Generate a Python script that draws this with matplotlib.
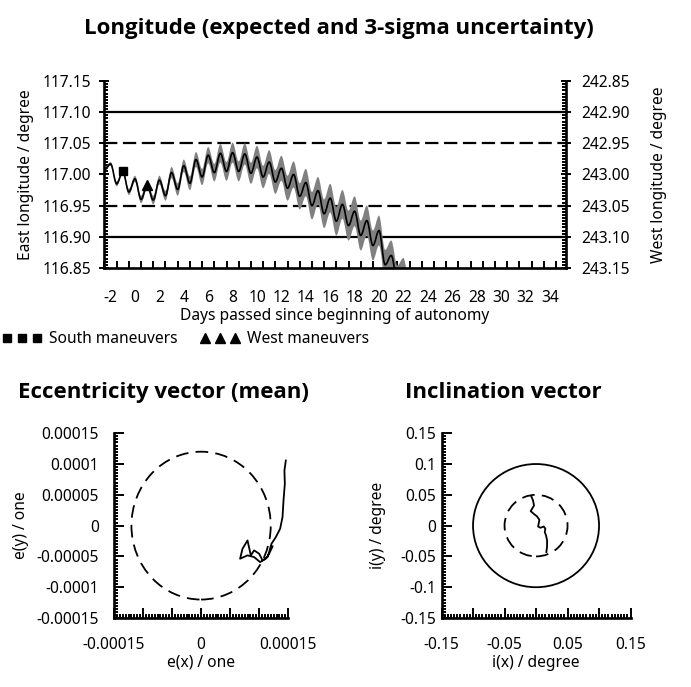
import matplotlib
matplotlib.use("Agg")
import matplotlib.pyplot as plt
import numpy as np
from matplotlib.lines import Line2D
from matplotlib.patches import Ellipse, PathPatch
from matplotlib.path import Path
from matplotlib.ticker import FuncFormatter, MultipleLocator

plt.rcParams["font.family"] = ["Noto Sans", "DejaVu Sans"]
plt.rcParams["axes.unicode_minus"] = False

# ---------------------------------------------------------------- data

# longitude, half-day samples (peaks on whole days, troughs in between)
days = [-2.5, -2.0, -1.5, -1.0, -0.5, 0.0, 0.5, 1.0, 1.5, 2.0,
        2.5, 3.0, 3.5, 4.0, 4.5, 5.0, 5.5, 6.0, 6.5, 7.0,
        7.5, 8.0, 8.5, 9.0, 9.5, 10.0, 10.5, 11.0, 11.5, 12.0,
        12.5, 13.0, 13.5, 14.0, 14.5, 15.0, 15.5, 16.0, 16.5, 17.0,
        17.5, 18.0, 18.5, 19.0, 19.5, 20.0, 20.5, 21.0, 21.5, 22.0, 22.5]
east_lon = [117.008, 117.017, 116.985, 117.005, 116.972, 116.993, 116.960, 116.983, 116.959, 116.991,
            116.966, 117.003, 116.976, 117.014, 116.986, 117.024, 116.996, 117.031, 117.003, 117.034,
            117.005, 117.035, 117.005, 117.033, 117.002, 117.028, 116.996, 117.020, 116.988, 117.010,
            116.978, 117.000, 116.965, 116.987, 116.950, 116.974, 116.937, 116.962, 116.925, 116.952,
            116.918, 116.941, 116.902, 116.926, 116.886, 116.910, 116.855, 116.870, 116.830, 116.842, 116.800]
sigma3 = [0.003, 0.003, 0.004, 0.004, 0.005, 0.005, 0.006, 0.006, 0.007, 0.007,
          0.008, 0.009, 0.010, 0.010, 0.011, 0.012, 0.013, 0.013, 0.014, 0.015,
          0.015, 0.016, 0.016, 0.017, 0.017, 0.018, 0.018, 0.019, 0.019, 0.020,
          0.020, 0.021, 0.021, 0.022, 0.022, 0.022, 0.023, 0.023, 0.023, 0.023,
          0.024, 0.024, 0.024, 0.024, 0.024, 0.024, 0.024, 0.024, 0.024, 0.024, 0.024]

south_days = [-1.0]
south_lon = [117.005]
west_days = [1.0]
west_lon = [116.983]

solid_limits = [117.10, 116.90]
dashed_limits = [117.05, 116.95]

# eccentricity vector (mean)
ecc_x = [0.000146, 0.0001436, 0.0001443, 0.000142, 0.0001403, 0.0001362, 0.0001288, 0.0001213,
         0.0001172, 0.0001145, 0.0001059, 0.0001, 0.0000914, 0.0000857, 0.00008, 0.0000714,
         0.0000672, 0.00008, 0.0000914, 0.0001017, 0.0001115, 0.0001172, 0.0001231]
ecc_y = [0.0001057, 0.0000895, 0.0000679, 0.0000408, 0.0000138, -0.000005, -0.0000186, -0.0000294,
         -0.000043, -0.0000511, -0.0000564, -0.0000456, -0.0000402, -0.0000483, -0.000024, -0.0000375,
         -0.0000537, -0.0000483, -0.0000511, -0.0000592, -0.0000537, -0.0000456, -0.0000337]
ecc_limit = 0.00012

# inclination vector
inc_x = [-0.0074, -0.0048, -0.0032, -0.0063, -0.0085, -0.0037, 0.0016, 0.0053, 0.0042,
         0.0032, 0.0069, 0.0122, 0.0148, 0.0138, 0.0159, 0.0175, 0.0175, 0.0164]
inc_y = [0.0473, 0.0408, 0.0327, 0.0273, 0.0235, 0.0192, 0.0149, 0.0095, 0.003,
         -0.0014, -0.0035, -0.0014, -0.0051, -0.0105, -0.016, -0.0241, -0.0338, -0.043]
inc_outer = 0.1
inc_inner = 0.05

FS = 11.2
TITLE_FS = 16
TITLE_FONT = ["Open Sans", "DejaVu Sans"]
SPINE_W = 1.9
DASH = (0, (6, 2.5))


def _smooth_path(x, y):
    # cubic segments with flat tangents at each sample -> sine-like wiggle
    verts = [(x[0], y[0])]
    codes = [Path.MOVETO]
    for i in range(1, len(x)):
        dx = (x[i] - x[i - 1]) * 0.36
        verts += [(x[i - 1] + dx, y[i - 1]), (x[i] - dx, y[i]), (x[i], y[i])]
        codes += [Path.CURVE4] * 3
    return verts, codes


def _num(v, _pos=None):
    if abs(v) < 1e-12:
        return "0"
    return f"{v:.5f}".rstrip("0").rstrip(".")


def _style_axes(ax):
    for side in ("top", "right"):
        ax.spines[side].set_visible(False)
    for side in ("left", "bottom"):
        ax.spines[side].set_linewidth(SPINE_W)
    ax.tick_params(which="both", direction="in", width=1.4, labelsize=FS, pad=6)


fig = plt.figure(figsize=(6.91, 6.87), dpi=100)

# ------------------------------------------------------------ longitude

ax = fig.add_axes([0.1512, 0.610, 0.6675, 0.272])
d = np.array(days)
lon = np.array(east_lon)
sig = np.array(sigma3)

up_v, up_c = _smooth_path(d, lon + sig)
lo_v, lo_c = _smooth_path(d[::-1], (lon - sig)[::-1])
band = Path(up_v + lo_v + [up_v[0]], up_c + [Path.LINETO] + lo_c[1:] + [Path.CLOSEPOLY])
ax.add_patch(PathPatch(band, facecolor="#808080", edgecolor="none", zorder=2))
mid_v, mid_c = _smooth_path(d, lon)
ax.add_patch(PathPatch(Path(mid_v, mid_c), facecolor="none", edgecolor="black", lw=1.2, zorder=3))

for y in solid_limits:
    ax.axhline(y, color="black", lw=1.6, zorder=1)
for y in dashed_limits:
    ax.axhline(y, color="black", lw=1.6, ls=DASH, zorder=1)

ax.plot(south_days, south_lon, "s", color="black", ms=6, zorder=4)
ax.plot(west_days, west_lon, "^", color="black", ms=6.5, zorder=4)

ax.set_xlim(-2.5, 35.3)
ax.set_ylim(116.85, 117.15)
_style_axes(ax)
ax.set_xticks(np.arange(-2, 35, 2))
ax.xaxis.set_minor_locator(MultipleLocator(1.0, offset=0.5))
ax.tick_params(axis="x", which="major", length=0, pad=16)
ax.tick_params(axis="x", which="minor", length=5)
ax.set_yticks(np.arange(116.85, 117.151, 0.05))
ax.yaxis.set_major_formatter(FuncFormatter(lambda v, p: f"{v:.2f}"))
ax.yaxis.set_minor_locator(MultipleLocator(0.005))
ax.tick_params(axis="y", which="major", direction="inout", length=7)
ax.tick_params(axis="y", which="minor", length=3)
ax.set_xlabel("Days passed since beginning of autonomy", fontsize=FS, labelpad=1)
ax.set_ylabel("East longitude / degree", fontsize=FS, labelpad=6)

sec = ax.secondary_yaxis("right", functions=(lambda v: 360 - v, lambda v: 360 - v))
sec.spines["right"].set_linewidth(SPINE_W)
sec.set_yticks(np.arange(242.85, 243.151, 0.05))
sec.yaxis.set_major_formatter(FuncFormatter(lambda v, p: f"{v:.2f}"))
sec.yaxis.set_minor_locator(MultipleLocator(0.005))
sec.tick_params(which="major", direction="inout", length=7, width=1.4, labelsize=FS, pad=8)
sec.tick_params(which="minor", direction="in", length=3, width=1.4)
sec.set_ylabel("West longitude / degree", fontsize=FS, labelpad=15)

fig.text(0.491, 0.958, "Longitude (expected and 3-sigma uncertainty)",
         ha="center", va="center", fontsize=TITLE_FS, fontweight="bold", family=TITLE_FONT)

handles = [Line2D([], [], marker="s", ls="none", color="black", ms=6),
           Line2D([], [], marker="^", ls="none", color="black", ms=6.5)]
fig.legend(handles, ["South maneuvers", "West maneuvers"], loc="upper left",
           bbox_to_anchor=(0.004, 0.518), ncol=2, numpoints=3, frameon=False,
           handlelength=2.5, handletextpad=0.45, columnspacing=1.5,
           borderpad=0, borderaxespad=0, fontsize=FS)

# --------------------------------------------------------- eccentricity

ax_e = fig.add_axes([0.165, 0.1004, 0.252, 0.269])
ax_e.add_patch(Ellipse((0, 0), 2 * ecc_limit, 2 * ecc_limit, fill=False,
                       edgecolor="black", lw=1.3, ls=(0, (7, 4))))
ax_e.plot(ecc_x, ecc_y, color="black", lw=1.3)
ax_e.set_xlim(-0.00015, 0.00015)
ax_e.set_ylim(-0.00015, 0.00015)
_style_axes(ax_e)
ax_e.set_xticks(np.arange(-0.00015, 0.000151, 0.00005))
ax_e.set_xticklabels(["-0.00015", "", "", "0", "", "", "0.00015"])
ax_e.set_yticks(np.arange(-0.00015, 0.000151, 0.00005))
ax_e.yaxis.set_major_formatter(FuncFormatter(_num))
ax_e.xaxis.set_minor_locator(MultipleLocator(0.000005))
ax_e.yaxis.set_minor_locator(MultipleLocator(0.000005))
ax_e.tick_params(which="major", length=7)
ax_e.tick_params(which="minor", length=3)
ax_e.tick_params(axis="x", pad=14)
ax_e.tick_params(axis="y", pad=11)
ax_e.set_xlabel("e(x) / one", fontsize=FS, labelpad=1)
ax_e.set_ylabel("e(y) / one", fontsize=FS, labelpad=5)
fig.text(0.026, 0.429, "Eccentricity vector (mean)", ha="left", va="center",
         fontsize=TITLE_FS, fontweight="bold", family=TITLE_FONT)

# ---------------------------------------------------------- inclination

ax_i = fig.add_axes([0.639, 0.1004, 0.2735, 0.269])
ax_i.add_patch(Ellipse((0, 0), 2 * inc_outer, 2 * inc_outer, fill=False,
                       edgecolor="black", lw=1.3))
ax_i.add_patch(Ellipse((0, 0), 2 * inc_inner, 2 * inc_inner, fill=False,
                       edgecolor="black", lw=1.3, ls=(0, (7, 4))))
ax_i.plot(inc_x, inc_y, color="black", lw=1.3)
ax_i.set_xlim(-0.15, 0.15)
ax_i.set_ylim(-0.15, 0.15)
_style_axes(ax_i)
ax_i.set_xticks(np.arange(-0.15, 0.151, 0.05))
ax_i.set_xticklabels(["-0.15", "", "-0.05", "", "0.05", "", "0.15"])
ax_i.set_yticks(np.arange(-0.15, 0.151, 0.05))
ax_i.yaxis.set_major_formatter(FuncFormatter(_num))
ax_i.xaxis.set_minor_locator(MultipleLocator(0.005))
ax_i.yaxis.set_minor_locator(MultipleLocator(0.005))
ax_i.tick_params(which="major", length=7)
ax_i.tick_params(which="minor", length=3)
ax_i.tick_params(axis="x", pad=14)
ax_i.tick_params(axis="y", pad=4)
ax_i.set_xlabel("i(x) / degree", fontsize=FS, labelpad=1)
ax_i.set_ylabel("i(y) / degree", fontsize=FS, labelpad=10)
fig.text(0.586, 0.429, "Inclination vector", ha="left", va="center",
         fontsize=TITLE_FS, fontweight="bold", family=TITLE_FONT)

fig.savefig("out.png", dpi=100)
